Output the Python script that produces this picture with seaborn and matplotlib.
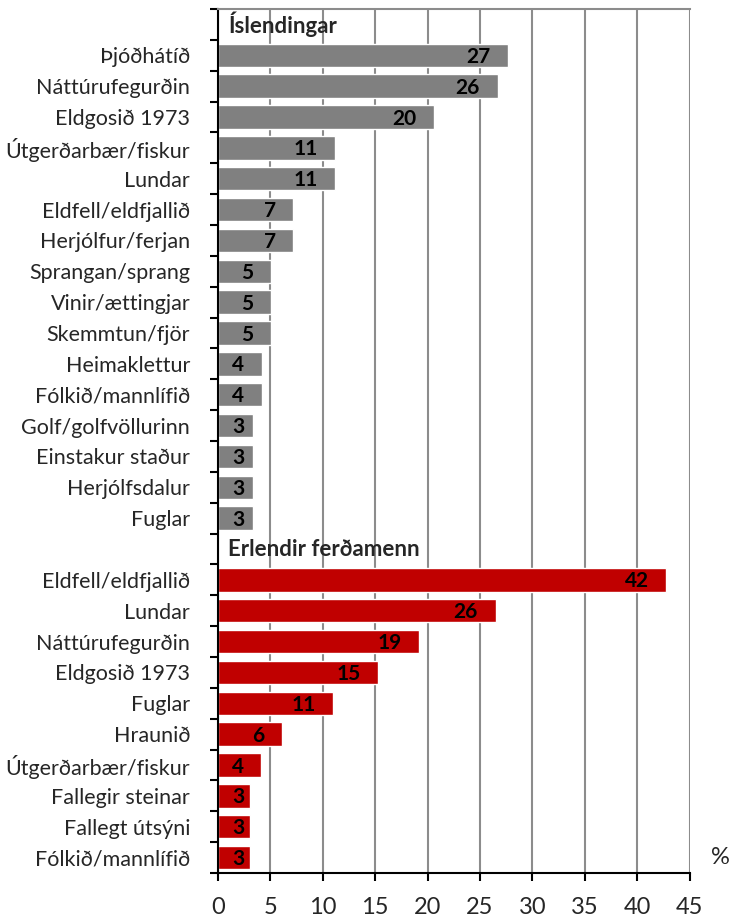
import matplotlib
matplotlib.use("Agg")
import matplotlib.pyplot as plt
import seaborn as sns
import pandas as pd
import numpy as np
from matplotlib.ticker import FixedLocator

# ---------------- data ----------------
group_names = ["Íslendingar", "Erlendir ferðamenn"]

is_categories = ["Þjóðhátíð", "Náttúrufegurðin", "Eldgosið 1973", "Útgerðarbær/fiskur",
                 "Lundar", "Eldfell/eldfjallið", "Herjólfur/ferjan", "Sprangan/sprang",
                 "Vinir/ættingjar", "Skemmtun/fjör", "Heimaklettur", "Fólkið/mannlífið",
                 "Golf/golfvöllurinn", "Einstakur staður", "Herjólfsdalur", "Fuglar"]
is_values = [27.7, 26.7, 20.6, 11.2, 11.2, 7.2, 7.2, 5.1, 5.1, 5.1, 4.2, 4.2, 3.3, 3.3, 3.3, 3.3]
is_labels = ["27", "26", "20", "11", "11", "7", "7", "5", "5", "5", "4", "4", "3", "3", "3", "3"]

er_categories = ["Eldfell/eldfjallið", "Lundar", "Náttúrufegurðin", "Eldgosið 1973", "Fuglar",
                 "Hraunið", "Útgerðarbær/fiskur", "Fallegir steinar", "Fallegt útsýni",
                 "Fólkið/mannlífið"]
er_values = [42.8, 26.5, 19.2, 15.3, 11.0, 6.1, 4.1, 3.1, 3.1, 3.1]
er_labels = ["42", "26", "19", "15", "11", "6", "4", "3", "3", "3"]

x_ticks = [0, 5, 10, 15, 20, 25, 30, 35, 40, 45]

# ---------------- build table ----------------
rows = []
order = []
tick_text = []
order.append("H0")
tick_text.append("")
for c, v, l in zip(is_categories, is_values, is_labels):
    k = "0|" + c
    order.append(k); tick_text.append(c)
    rows.append({"key": k, "value": v, "group": group_names[0], "label": l})
order.append("H1")
tick_text.append("")
for c, v, l in zip(er_categories, er_values, er_labels):
    k = "1|" + c
    order.append(k); tick_text.append(c)
    rows.append({"key": k, "value": v, "group": group_names[1], "label": l})
df = pd.DataFrame(rows)

# ---------------- plot ----------------
sns.set_style("white")
plt.rcParams["font.family"] = ["Lato", "DejaVu Sans"]

fig = plt.figure(figsize=(7.33, 9.16), dpi=100)
ax = fig.add_axes([0.2974, 0.0469, 0.9407 - 0.2974, 0.9902 - 0.0469])

sns.barplot(data=df, y="key", x="value", hue="group", order=order,
            palette={group_names[0]: "#808080", group_names[1]: "#C00000"},
            dodge=False, width=0.76, orient="h", ax=ax, legend=False,
            saturation=1)

ax.set_xlim(0, 45)
ax.set_ylim(len(order) - 0.5, -0.5)
ax.set_xlabel("")
ax.set_ylabel("")

# gridlines
ax.xaxis.set_major_locator(FixedLocator(x_ticks))
ax.grid(axis="x", color="#8c8c8c", linewidth=1.5)
ax.set_axisbelow(True)

# y ticks
ax.set_yticks(range(len(order)))
ax.set_yticklabels(tick_text, fontsize=15.5)
ax.tick_params(axis="y", which="major", left=False, length=0, pad=20)
ax.yaxis.set_minor_locator(FixedLocator(np.arange(-0.5, len(order), 1.0)))
ax.tick_params(axis="y", which="minor", left=True, length=6, width=1.5,
               color="black", direction="out")

ax.tick_params(axis="x", which="major", bottom=True, length=6, width=1.5,
               color="black", direction="out", labelsize=17, pad=11)

for s in ["left", "bottom"]:
    ax.spines[s].set_color("black")
    ax.spines[s].set_linewidth(1.5)
ax.spines["right"].set_visible(False)
ax.spines["top"].set_color("#8c8c8c")
ax.spines["top"].set_linewidth(1.5)

# group headers
ax.text(1.0, order.index("H0"), group_names[0], fontsize=16, fontweight="bold",
        va="center", ha="left")
ax.text(1.0, order.index("H1"), group_names[1], fontsize=16, fontweight="bold",
        va="center", ha="left")

# value labels
for _, r in df.iterrows():
    y = order.index(r["key"])
    xr = max(r["value"] - 1.7, 2.5)
    ax.text(xr, y + 0.05, r["label"], fontsize=15, fontweight="bold",
            ha="right", va="center", color="black")

# percent sign
fig.text(720 / 733, 1 - 858 / 916, "%", fontsize=17, ha="center", va="center")

fig.savefig("out.png", dpi=100)
